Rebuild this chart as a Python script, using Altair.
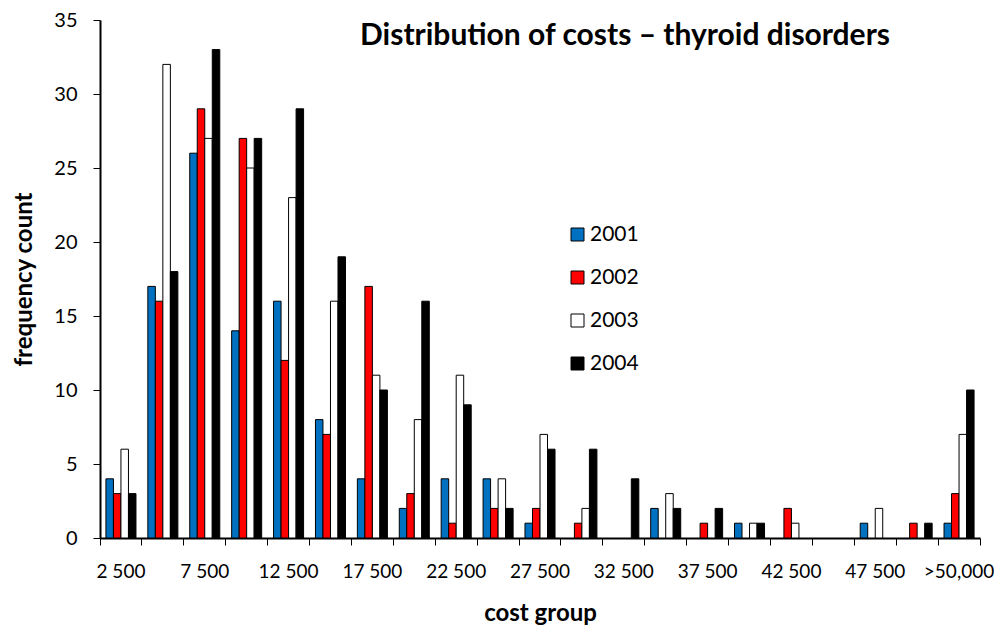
import altair as alt
import pandas as pd

categories = ["2 500", "5 000", "7 500", "10 000", "12 500", "15 000", "17 500",
              "20 000", "22 500", "25 000", "27 500", "30 000", "32 500", "35 000",
              "37 500", "40 000", "42 500", "45 000", "47 500", "50 000", ">50,000"]
label_values = categories[0::2]
years = ["2001", "2002", "2003", "2004"]
v2001 = [4, 17, 26, 14, 16, 8, 4, 2, 4, 4, 1, 0, 0, 2, 0, 1, 0, 0, 1, 0, 1]
v2002 = [3, 16, 29, 27, 12, 7, 17, 3, 1, 2, 2, 1, 0, 0, 1, 0, 2, 0, 0, 1, 3]
v2003 = [6, 32, 27, 25, 23, 16, 11, 8, 11, 4, 7, 2, 0, 3, 0, 1, 1, 0, 2, 0, 7]
v2004 = [3, 18, 33, 27, 29, 19, 10, 16, 9, 2, 6, 6, 4, 2, 2, 1, 0, 0, 0, 1, 10]
colors = ["#0070C0", "#FF0000", "#FFFFFF", "#000000"]
y_ticks = [0, 5, 10, 15, 20, 25, 30, 35]

rows = []
for yr, vals in zip(years, [v2001, v2002, v2003, v2004]):
    for c, v in zip(categories, vals):
        rows.append({"cost": c, "year": yr, "count": v})
df = pd.DataFrame(rows)
df_bars = df[df["count"] > 0]

FONT = "Lato"
xscale = alt.Scale(domain=categories, paddingInner=0, paddingOuter=0)

bars = alt.Chart(df_bars).mark_bar(stroke="black", strokeWidth=1).encode(
    x=alt.X("cost:N", sort=categories, scale=xscale,
            axis=alt.Axis(orient="bottom", values=label_values, ticks=False,
                          labelAngle=0, labelFont=FONT, labelFontSize=19,
                          labelColor="black", labelPadding=24,
                          domainColor="black", domainWidth=2,
                          title="cost group", titleFont=FONT, titleFontSize=24,
                          titleFontWeight="bold", titleColor="black",
                          titlePadding=20)),
    xOffset=alt.XOffset("year:N", sort=years,
                        scale=alt.Scale(domain=years, paddingOuter=0.79, paddingInner=0)),
    y=alt.Y("count:Q", scale=alt.Scale(domain=[0, 35], nice=False),
            axis=alt.Axis(values=y_ticks, tickSize=7, tickColor="black", tickWidth=1,
                          labelFont=FONT, labelFontSize=20, labelColor="black",
                          labelPadding=16, domainColor="black", domainWidth=2,
                          title="frequency count", titleFont=FONT, titleFontSize=24,
                          titleFontWeight="bold", titleColor="black",
                          titlePadding=17)),
    color=alt.Color("year:N", sort=years,
                    scale=alt.Scale(domain=years, range=colors),
                    legend=alt.Legend(orient="none", legendX=467, legendY=204,
                                      title=None, symbolType="square", symbolSize=169,
                                      symbolStrokeColor="black", symbolStrokeWidth=1,
                                      labelFont=FONT, labelFontSize=21,
                                      labelColor="black", labelOffset=2,
                                      rowPadding=21, padding=0)),
)

ticks_all = alt.Chart(df).mark_tick(opacity=0).encode(
    x=alt.X("cost:N", sort=categories, scale=xscale,
            axis=alt.Axis(orient="bottom", values=categories, bandPosition=0,
                          labels=False, domain=False, ticks=True, tickSize=7,
                          tickColor="black", tickWidth=1, title=None))
)

ticks_last = alt.Chart(df).mark_tick(opacity=0).encode(
    x=alt.X("cost:N", sort=categories, scale=xscale,
            axis=alt.Axis(orient="bottom", values=[categories[-1]], bandPosition=1,
                          labels=False, domain=False, ticks=True, tickSize=7,
                          tickColor="black", tickWidth=1, title=None))
)

chart = alt.layer(bars, ticks_all, ticks_last).resolve_scale(
    x="shared"
).resolve_axis(
    x="independent"
).properties(
    width=880, height=518,
    padding={"left": 92, "top": 12, "right": 14, "bottom": 91},
    autosize=alt.AutoSizeParams(type="none"),
    title=alt.Title("Distribution of costs \u2013 thyroid disorders", font=FONT,
                    fontSize=30, fontWeight="bold", color="black",
                    anchor="middle", frame="group", dx=85, dy=41, offset=0),
).configure_view(stroke=None).configure_axis(grid=False)

chart.save("out.html", embed_options={"renderer": "svg", "actions": False})
